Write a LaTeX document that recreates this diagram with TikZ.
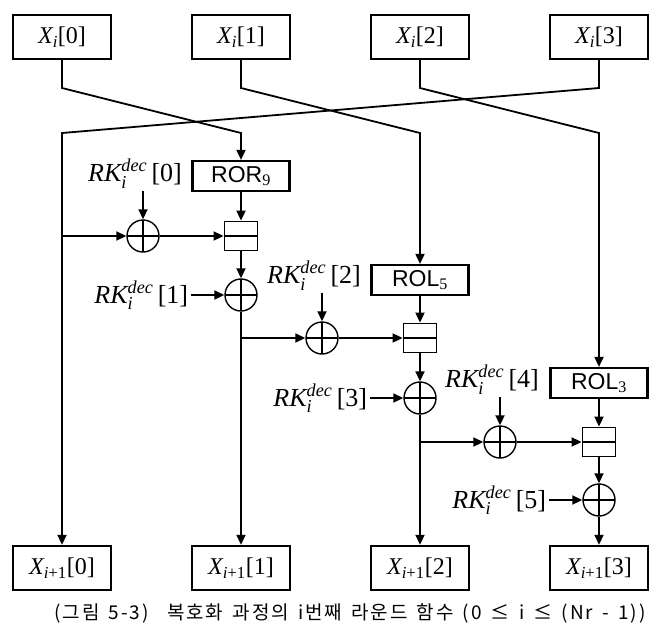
\documentclass[tikz,border=0pt]{standalone}
\usepackage{amsmath}
\usepackage{fontspec}
\setmainfont{Liberation Serif}
\newfontfamily\krfont[LetterSpace=10, WordSpace=1.5]{Noto Sans CJK KR}
\newfontfamily\opfont{Liberation Sans}
\usetikzlibrary{arrows.meta,positioning}
\newcommand{\xw}[2]{$\textit{X}_{#1}$[#2]}
\newcommand{\rk}[1]{$\textit{RK}_{\textit{i}}^{\textit{dec}}$\,[#1]}
\tikzset{
  wordbox/.style={
    draw,
    line width=2.4pt,
    minimum width=98pt,
    minimum height=44pt,
    inner sep=2pt,
    font=\fontsize{24}{28}\selectfont
  },
  rotbox/.style={
    draw,
    line width=2.2pt,
    minimum width=97pt,
    minimum height=30pt,
    inner sep=2pt,
    font=\opfont\fontsize{23}{26}\selectfont
  },
  xorop/.style={
    draw, circle,
    line width=1.4pt,
    minimum size=32pt,
    inner sep=0pt,
    path picture={\draw[line width=1.4pt]
      (path picture bounding box.north) -- (path picture bounding box.south)
      (path picture bounding box.west) -- (path picture bounding box.east);}
  },
  addop/.style={
    draw,
    line width=1.8pt,
    minimum width=33pt,
    minimum height=29pt,
    inner sep=0pt,
    path picture={\draw[line width=1.4pt]
      (path picture bounding box.west) -- (path picture bounding box.east);}
  },
  keylabel/.style={inner sep=3pt, font=\fontsize{26}{30}\selectfont},
  dataline/.style={line width=1.8pt},
  dataarrow/.style={dataline, -{Triangle[length=10pt, width=9pt]}}
}

\begin{document}
\begin{tikzpicture}[x=1pt, y=-1pt]
  \useasboundingbox (0,0) rectangle (666,635);

  % input and output words
  \node[wordbox] (xi0) at (62,37) {\xw{\textit{i}}{0}};
  \node[wordbox] (xi1) at (241,37) {\xw{\textit{i}}{1}};
  \node[wordbox] (xi2) at (420,37) {\xw{\textit{i}}{2}};
  \node[wordbox] (xi3) at (599,37) {\xw{\textit{i}}{3}};

  \node[wordbox] (xo0) at (62,568) {\xw{\textit{i}\text{+1}}{0}};
  \node[wordbox] (xo1) at (241,568) {\xw{\textit{i}\text{+1}}{1}};
  \node[wordbox] (xo2) at (420,568) {\xw{\textit{i}\text{+1}}{2}};
  \node[wordbox] (xo3) at (599,568) {\xw{\textit{i}\text{+1}}{3}};

  % round operations
  \node[rotbox] (ror9) at (241,176) {ROR{\rmfamily\textsubscript{9}}};
  \node[addop] (add1) at (241,236) {};
  \node[xorop] (xor1) at (241,295) {};
  \node[xorop] (xor0) at (143,236) {};

  \node[rotbox] (rol5) at (420,280) {ROL{\rmfamily\textsubscript{5}}};
  \node[addop] (add2) at (420,338) {};
  \node[xorop] (xor3) at (420,398) {};
  \node[xorop] (xor2) at (322,338) {};

  \node[rotbox] (rol3) at (599,383) {ROL{\rmfamily\textsubscript{3}}};
  \node[addop] (add3) at (599,442) {};
  \node[xorop] (xor5) at (599,500) {};
  \node[xorop] (xor4) at (500,442) {};

  % round keys
  \node[keylabel, above=28pt of xor0, xshift=-8pt] (rk0) {\rk{0}};
  \node[keylabel, left=33pt of xor1] (rk1) {\rk{1}};
  \node[keylabel, above=28pt of xor2, xshift=-8pt] (rk2) {\rk{2}};
  \node[keylabel, left=33pt of xor3] (rk3) {\rk{3}};
  \node[keylabel, above=28pt of xor4, xshift=-8pt] (rk4) {\rk{4}};
  \node[keylabel, left=33pt of xor5] (rk5) {\rk{5}};

  % word permutation
  \coordinate (bend0) at (62,88);
  \coordinate (bend1) at (241,88);
  \coordinate (bend2) at (420,88);
  \coordinate (bend3) at (599,88);
  \coordinate (turn0) at (62,133);
  \coordinate (turn1) at (241,133);
  \coordinate (turn2) at (420,133);
  \coordinate (turn3) at (599,133);

  \draw[dataarrow] (xi0) -- (bend0) -- (turn1) -- (ror9);
  \draw[dataarrow] (xi1) -- (bend1) -- (turn2) -- (rol5);
  \draw[dataarrow] (xi2) -- (bend2) -- (turn3) -- (rol3);
  \draw[dataarrow] (xi3) -- (bend3) -- (turn0) -- (xo0);

  % branches
  \coordinate (tap0) at (turn0 |- xor0);
  \coordinate (tap1) at (xor1 |- xor2);
  \coordinate (tap2) at (xor3 |- xor4);

  \draw[dataarrow] (tap0) -- (xor0);
  \draw[dataarrow] (xor0) -- (add1);
  \draw[dataarrow] (ror9) -- (add1);
  \draw[dataarrow] (add1) -- (xor1);
  \draw[dataarrow] (xor1) -- (xo1);

  \draw[dataarrow] (tap1) -- (xor2);
  \draw[dataarrow] (xor2) -- (add2);
  \draw[dataarrow] (rol5) -- (add2);
  \draw[dataarrow] (add2) -- (xor3);
  \draw[dataarrow] (xor3) -- (xo2);

  \draw[dataarrow] (tap2) -- (xor4);
  \draw[dataarrow] (xor4) -- (add3);
  \draw[dataarrow] (rol3) -- (add3);
  \draw[dataarrow] (add3) -- (xor5);
  \draw[dataarrow] (xor5) -- (xo3);

  % key inputs
  \draw[dataarrow] (rk0.south -| xor0) -- (xor0);
  \draw[dataarrow] (rk1) -- (xor1);
  \draw[dataarrow] (rk2.south -| xor2) -- (xor2);
  \draw[dataarrow] (rk3) -- (xor3);
  \draw[dataarrow] (rk4.south -| xor4) -- (xor4);
  \draw[dataarrow] (rk5) -- (xor5);

  \node[font=\krfont\fontsize{19}{22}\selectfont] (caption) at (350,613)
    {(그림 5-3)\ \ 복호화 과정의 i번째 라운드 함수 (0 ≤ i ≤ (Nr - 1))};
\end{tikzpicture}
\end{document}
